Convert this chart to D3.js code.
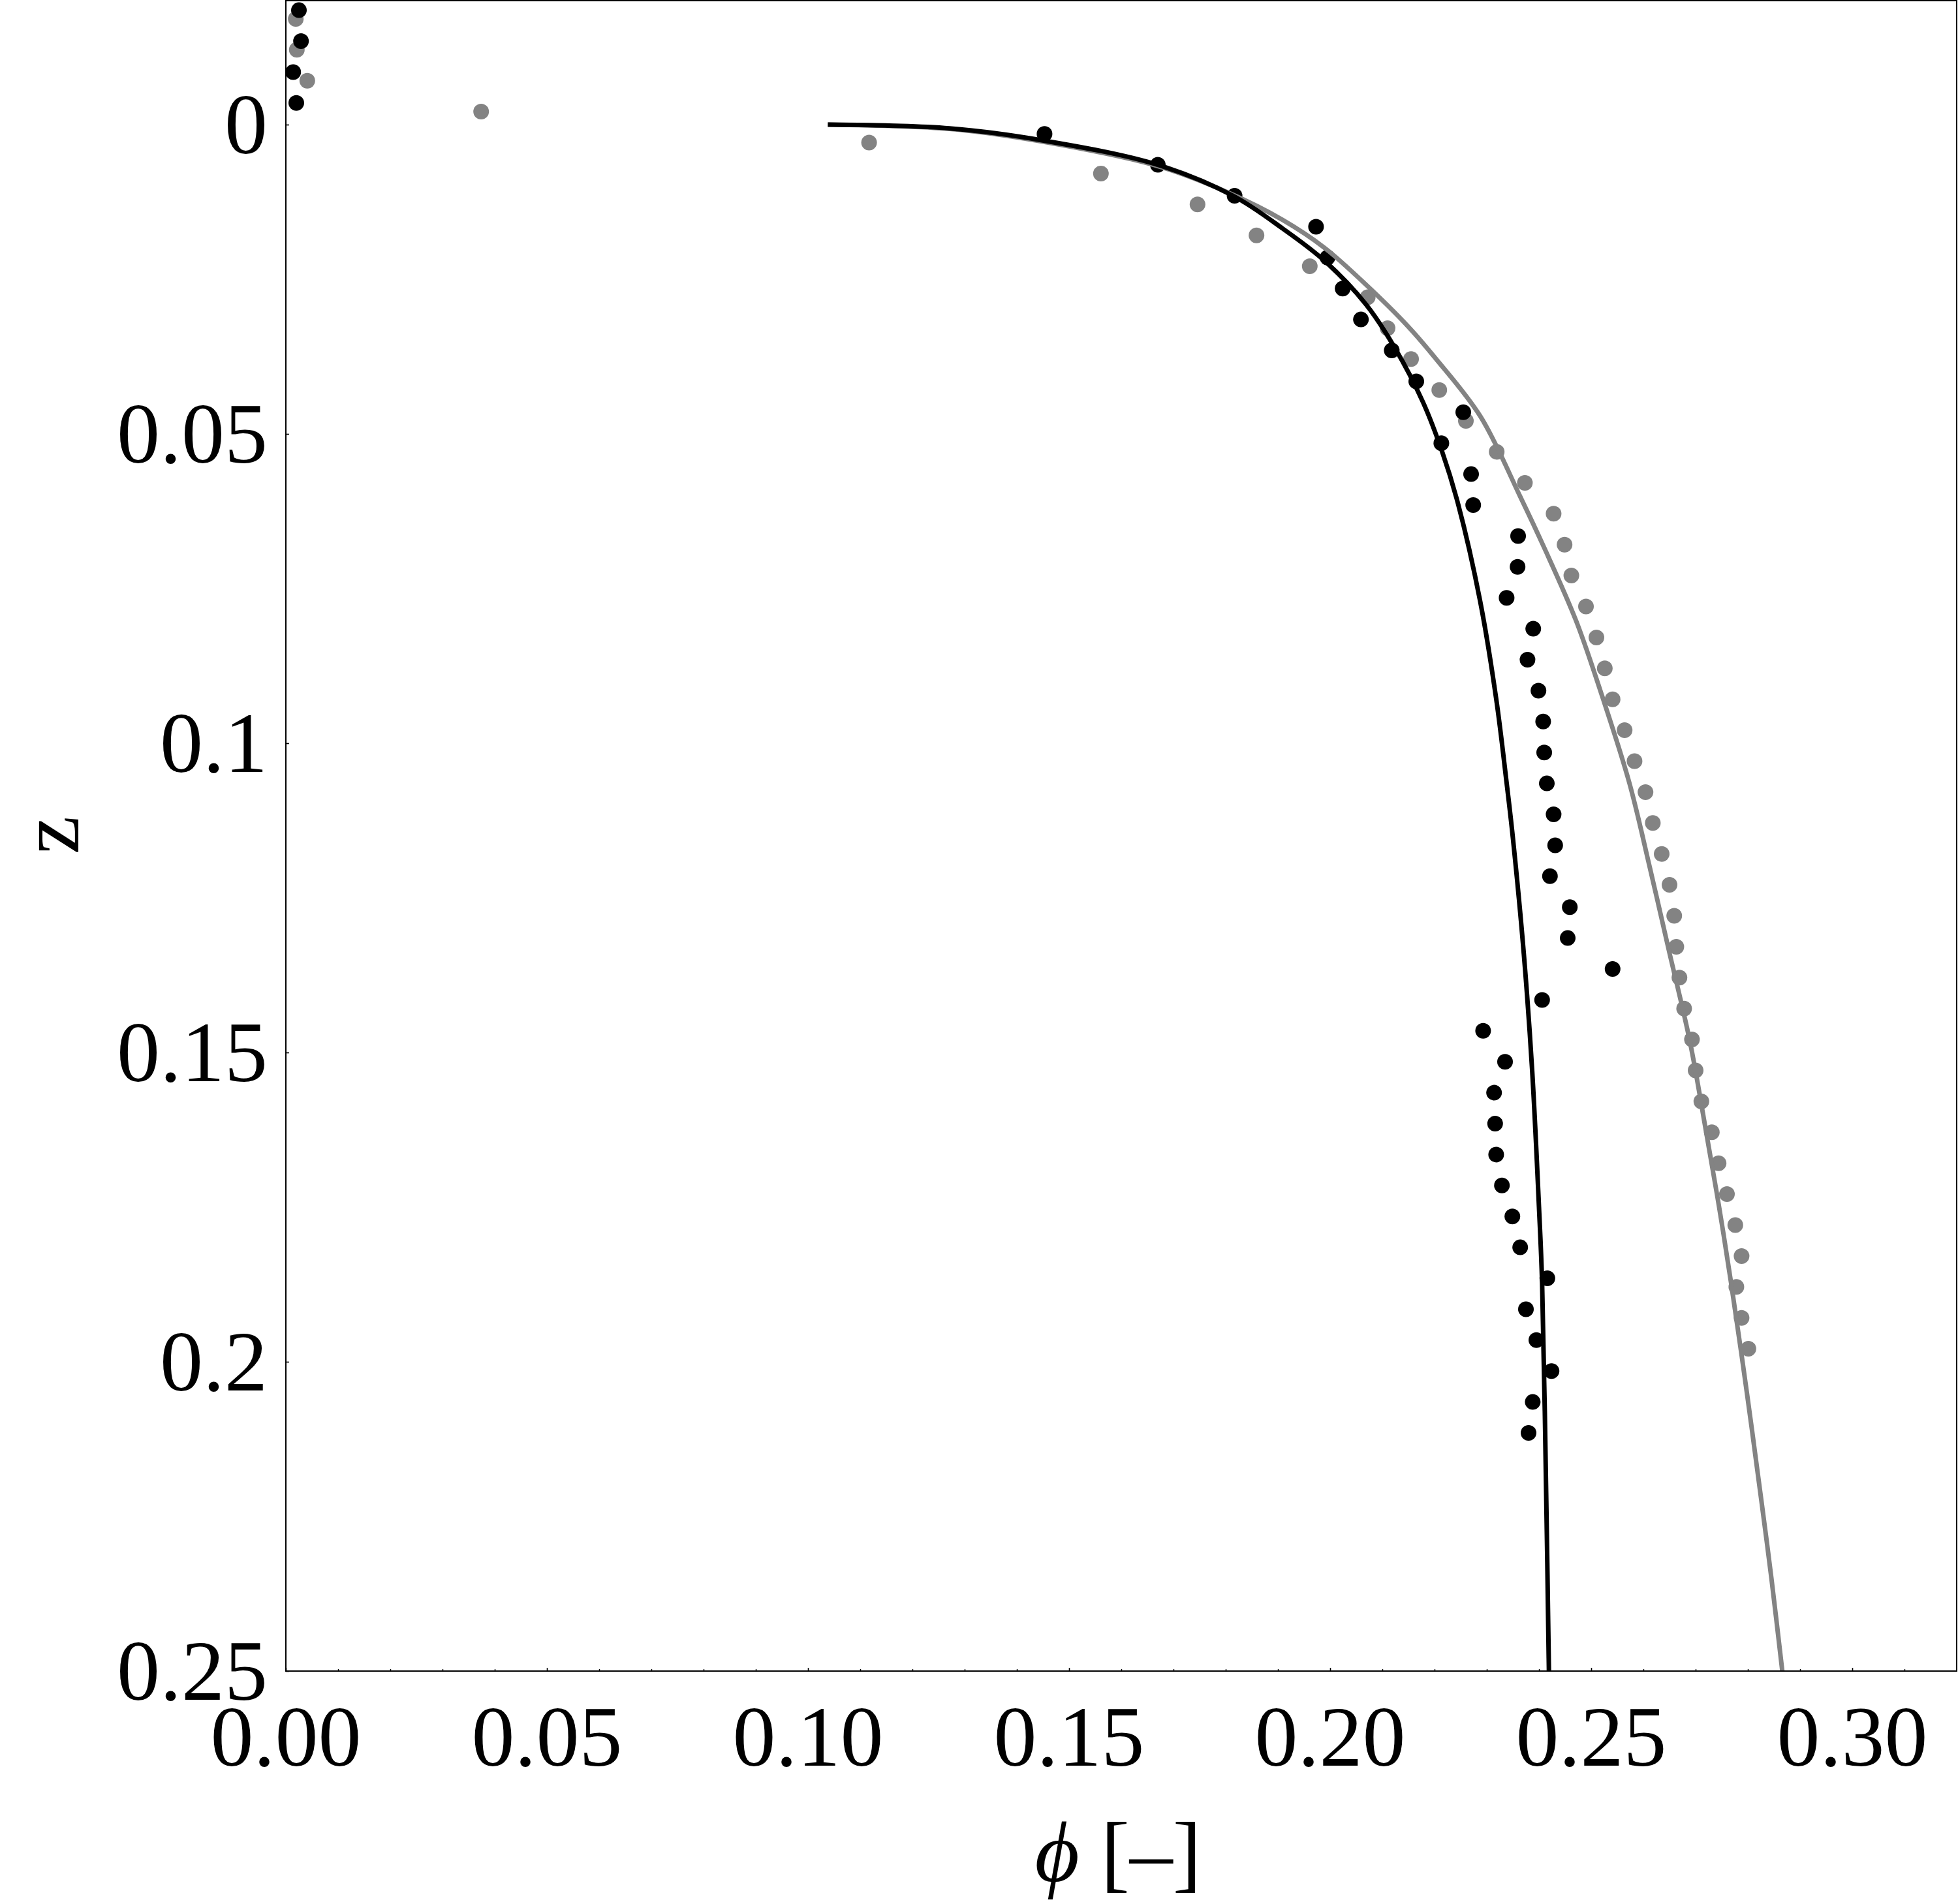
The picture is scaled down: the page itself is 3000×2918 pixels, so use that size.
<!DOCTYPE html>
<html>
<head>
<meta charset="utf-8">
<script src="https://cdn.jsdelivr.net/npm/d3@7"></script>
<style>
  html, body { margin: 0; padding: 0; background: #fff; }
  svg { display: block; }
  text { font-family: "Liberation Serif", "Times New Roman", serif; fill: #000; }
</style>
</head>
<body>
<script>
// ---------- DATA ----------
const xTicks = [0.00, 0.05, 0.10, 0.15, 0.20, 0.25, 0.30];
const xTickLabels = ["0.00", "0.05", "0.10", "0.15", "0.20", "0.25", "0.30"];
const xMinorTicks = [0.01,0.02,0.03,0.04,0.06,0.07,0.08,0.09,0.11,0.12,0.13,0.14,0.16,0.17,0.18,0.19,0.21,0.22,0.23,0.24,0.26,0.27,0.28,0.29,0.31];
const yTicks = [0, 0.05, 0.1, 0.15, 0.2, 0.25];
const yTickLabels = ["0", "0.05", "0.1", "0.15", "0.2", "0.25"];

// black measured points
const blackPhi = [0.0025, 0.0029, 0.0014, 0.0020, 0.1453, 0.1670, 0.1817, 0.1973, 0.1995, 0.2024,
  0.2059, 0.2118, 0.2165, 0.2255, 0.2213, 0.2270, 0.2274, 0.2360, 0.2359, 0.2338,
  0.2389, 0.2378, 0.2399, 0.2408, 0.2410, 0.2415, 0.2428, 0.2431, 0.2421, 0.2459,
  0.2455, 0.2541, 0.2406, 0.2293, 0.2335, 0.2314, 0.2316, 0.2318, 0.2329, 0.2349,
  0.2364, 0.2416, 0.2375, 0.2395, 0.2424, 0.2388, 0.2380];
const blackZ = [-0.0185, -0.0135, -0.0085, -0.0035, 0.0015, 0.0065, 0.0115, 0.0165, 0.0215, 0.0265,
  0.0315, 0.0365, 0.0415, 0.0465, 0.0515, 0.0565, 0.0615, 0.0665, 0.0715, 0.0765,
  0.0815, 0.0865, 0.0915, 0.0965, 0.1015, 0.1065, 0.1115, 0.1165, 0.1215, 0.1265,
  0.1315, 0.1365, 0.1415, 0.1465, 0.1515, 0.1565, 0.1615, 0.1665, 0.1715, 0.1765,
  0.1815, 0.1865, 0.1915, 0.1965, 0.2015, 0.2065, 0.2115];

// gray measured points
const grayPhi = [0.0019, 0.0021, 0.0041, 0.0374, 0.1117, 0.1561, 0.1746, 0.1859, 0.1961, 0.2072,
  0.2110, 0.2155, 0.2209, 0.2260, 0.2319, 0.2373, 0.2428, 0.2449, 0.2462, 0.2490,
  0.2510, 0.2526, 0.2541, 0.2564, 0.2583, 0.2604, 0.2618, 0.2635, 0.2650, 0.2659,
  0.2663, 0.2669, 0.2678, 0.2693, 0.2700, 0.2711, 0.2731, 0.2744, 0.2760, 0.2776,
  0.2788, 0.2778, 0.2788, 0.2801];
const grayZ = [-0.0171, -0.0121, -0.0071, -0.0021, 0.0029, 0.0079, 0.0129, 0.0179, 0.0229, 0.0279,
  0.0329, 0.0379, 0.0429, 0.0479, 0.0529, 0.0579, 0.0629, 0.0679, 0.0729, 0.0779,
  0.0829, 0.0879, 0.0929, 0.0979, 0.1029, 0.1079, 0.1129, 0.1179, 0.1229, 0.1279,
  0.1329, 0.1379, 0.1429, 0.1479, 0.1529, 0.1579, 0.1629, 0.1679, 0.1729, 0.1779,
  0.1829, 0.1879, 0.1929, 0.1979];

// model curves
const blackCurvePhi = [0.1038, 0.1271, 0.1446, 0.1670, 0.1814, 0.1909, 0.1989, 0.2069, 0.2124, 0.2178,
  0.2215, 0.2245, 0.2287, 0.2318, 0.2338, 0.2350, 0.2371, 0.2387, 0.2400, 0.2406, 0.2414, 0.2419];
const blackCurveZ = [0.0, 0.0006, 0.0025, 0.0065, 0.0115, 0.0168, 0.0220, 0.0291, 0.0361, 0.0449,
  0.0530, 0.0613, 0.0769, 0.0928, 0.1064, 0.1153, 0.1341, 0.1530, 0.1750, 0.1873, 0.2225, 0.25];

const grayCurvePhi = [0.1038, 0.1271, 0.1446, 0.1670, 0.1805, 0.1909, 0.1989, 0.2069, 0.2149, 0.2203,
  0.2288, 0.2365, 0.2410, 0.2471, 0.2521, 0.2573, 0.2612, 0.2648, 0.2689, 0.2719,
  0.2745, 0.2768, 0.2798, 0.2826, 0.2845, 0.2866];
const grayCurveZ = [0.0, 0.0007, 0.0027, 0.0067, 0.0110, 0.0154, 0.0199, 0.0259, 0.0326, 0.0379,
  0.0472, 0.0603, 0.0684, 0.0802, 0.0924, 0.1064, 0.1200, 0.1332, 0.1482, 0.1623,
  0.1750, 0.1873, 0.2049, 0.2225, 0.2349, 0.25];

// ---------- LAYOUT ----------
const W = 3000, H = 2918;
const L = 438, R = 2998, T = 1, B = 2561;
const BLACK = "#000000", GRAY = "#838383";
const FS = 132;

const svg = d3.select("body").append("svg").attr("width", W).attr("height", H);
svg.append("rect").attr("width", W).attr("height", H).attr("fill", "#fff");

const x = d3.scaleLinear().domain([0, 0.32]).range([L, R]);
const y = d3.scaleLinear().domain([-0.02, 0.25]).range([T + 0.4, B]);

svg.append("defs").append("clipPath").attr("id", "plotclip")
  .append("rect").attr("x", L).attr("y", T).attr("width", R - L).attr("height", B - T);

const plot = svg.append("g").attr("clip-path", "url(#plotclip)");

const zip = (a, b) => a.map((v, i) => [v, b[i]]);

// points
plot.append("g").selectAll("circle").data(zip(grayPhi, grayZ)).join("circle")
  .attr("cx", d => x(d[0])).attr("cy", d => y(d[1])).attr("r", 12).attr("fill", GRAY);
plot.append("g").selectAll("circle").data(zip(blackPhi, blackZ)).join("circle")
  .attr("cx", d => x(d[0])).attr("cy", d => y(d[1])).attr("r", 12).attr("fill", BLACK);

const line = d3.line().x(d => x(d[0])).y(d => y(d[1])).curve(d3.curveCatmullRom.alpha(0.5));
plot.append("path").attr("d", line(zip(grayCurvePhi, grayCurveZ)))
  .attr("fill", "none").attr("stroke", GRAY).attr("stroke-width", 7)
  .attr("stroke-linejoin", "round");
plot.append("path").attr("d", line(zip(blackCurvePhi, blackCurveZ)))
  .attr("fill", "none").attr("stroke", BLACK).attr("stroke-width", 7)
  .attr("stroke-linejoin", "round");

// frame
const frame = svg.append("g").attr("stroke", "#000").attr("stroke-width", 2).attr("fill", "none");
frame.append("rect").attr("x", L).attr("y", T).attr("width", R - L).attr("height", B - T);

// x ticks (inward)
const xAxis = d3.axisBottom(x).tickValues(xTicks).tickSize(-5).tickFormat("");
svg.append("g").attr("transform", `translate(0,${B})`).call(xAxis)
  .call(g => g.select(".domain").remove())
  .call(g => g.selectAll("line").attr("stroke-width", 1.6));
const xAxisMinor = d3.axisBottom(x).tickValues(xMinorTicks).tickSize(-3).tickFormat("");
svg.append("g").attr("transform", `translate(0,${B})`).call(xAxisMinor)
  .call(g => g.select(".domain").remove())
  .call(g => g.selectAll("line").attr("stroke-width", 1.4));

// x tick labels
svg.append("g").selectAll("text").data(xTicks).join("text")
  .attr("x", d => x(d)).attr("y", 2706).attr("text-anchor", "middle")
  .attr("font-size", FS).text((d, i) => xTickLabels[i]);

// y ticks (inward)
const yAxis = d3.axisLeft(y).tickValues(yTicks).tickSize(-5).tickFormat("");
svg.append("g").attr("transform", `translate(${L},0)`).call(yAxis)
  .call(g => g.select(".domain").remove())
  .call(g => g.selectAll("line").attr("stroke-width", 1.6));

svg.append("g").selectAll("text").data(yTicks).join("text")
  .attr("x", 410).attr("y", d => y(d) + 44).attr("text-anchor", "end")
  .attr("font-size", FS).text((d, i) => yTickLabels[i]);

// axis labels
svg.append("text").attr("transform", "translate(120,1280) rotate(-90)")
  .attr("text-anchor", "middle").attr("font-size", 132).text("z");

const xl = svg.append("text").attr("x", 1713).attr("y", 2883)
  .attr("text-anchor", "middle").attr("font-size", 132);
xl.append("tspan").attr("font-style", "italic").text("ϕ");
xl.append("tspan").text(" [–]");
</script>
</body>
</html>
